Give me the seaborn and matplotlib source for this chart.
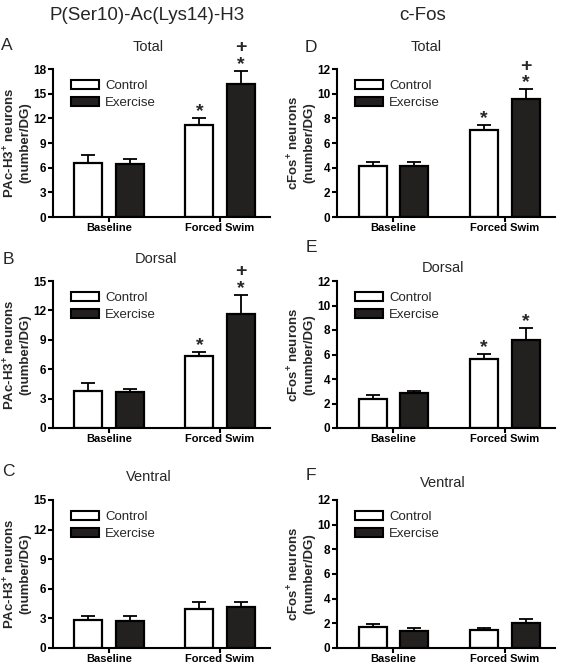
import matplotlib
matplotlib.use("Agg")
import matplotlib.pyplot as plt
from matplotlib.patches import Patch
import pandas as pd
import seaborn as sns

sns.set_theme(style="ticks")
plt.rcParams["font.family"] = ["Liberation Sans", "DejaVu Sans"]
plt.rcParams["mathtext.fontset"] = "custom"
plt.rcParams["mathtext.rm"] = "Liberation Sans:bold"
plt.rcParams["mathtext.bf"] = "Liberation Sans:bold"

groups = ["Baseline", "Forced Swim"]
conditions = ["Control", "Exercise"]
colors = {"Control": "white", "Exercise": "#231f20"}

# means / SEM, order = [Baseline, Forced Swim]
a_ctrl = [6.6, 11.2]
a_ex = [6.4, 16.2]
a_ctrl_sem = [0.95, 0.8]
a_ex_sem = [0.65, 1.6]

b_ctrl = [3.8, 7.3]
b_ex = [3.7, 11.65]
b_ctrl_sem = [0.75, 0.42]
b_ex_sem = [0.25, 1.95]

c_ctrl = [2.86, 3.94]
c_ex = [2.76, 4.2]
c_ctrl_sem = [0.41, 0.77]
c_ex_sem = [0.44, 0.51]

d_ctrl = [4.1, 7.05]
d_ex = [4.15, 9.55]
d_ctrl_sem = [0.4, 0.4]
d_ex_sem = [0.35, 0.8]

e_ctrl = [2.4, 5.6]
e_ex = [2.84, 7.16]
e_ctrl_sem = [0.3, 0.48]
e_ex_sem = [0.16, 1.0]

f_ctrl = [1.68, 1.49]
f_ex = [1.41, 2.01]
f_ctrl_sem = [0.28, 0.14]
f_ex_sem = [0.22, 0.38]

# significance marks: "*" vs baseline, "+" vs control
sig_both = [["", "*"], ["", "+\n*"]]
sig_star = [["", "*"], ["", "*"]]
sig_none = [["", ""], ["", ""]]

ylab_h3 = "PAc-H3$^{+}$ neurons\n(number/DG)"
ylab_fos = "cFos$^{+}$ neurons\n(number/DG)"

panels = [
    # letter, title, ctrl, ex, ctrl_sem, ex_sem, marks, ymax, ystep, ylabel
    ("A", "Total", a_ctrl, a_ex, a_ctrl_sem, a_ex_sem, sig_both, 18, 3, ylab_h3),
    ("B", "Dorsal", b_ctrl, b_ex, b_ctrl_sem, b_ex_sem, sig_both, 15, 3, ylab_h3),
    ("C", "Ventral", c_ctrl, c_ex, c_ctrl_sem, c_ex_sem, sig_none, 15, 3, ylab_h3),
    ("D", "Total", d_ctrl, d_ex, d_ctrl_sem, d_ex_sem, sig_both, 12, 2, ylab_fos),
    ("E", "Dorsal", e_ctrl, e_ex, e_ctrl_sem, e_ex_sem, sig_star, 12, 2, ylab_fos),
    ("F", "Ventral", f_ctrl, f_ex, f_ctrl_sem, f_ex_sem, sig_none, 12, 2, ylab_fos),
]

# layout in pixels: axes box (left, top, right, bottom), letter xy, title xy
W, H = 561, 665
boxes = [(53, 69, 270, 217), (53, 281, 270, 428), (53, 500, 270, 648),
         (337, 69, 555, 217), (337, 281, 555, 428), (337, 500, 555, 648)]
letter_xy = [(7, 45), (8, 259), (8, 472), (311, 47), (311, 248), (311, 475)]
title_xy = [(148, 47), (156, 259), (149, 477), (426, 47), (443, 268), (443, 483)]

fig = plt.figure(figsize=(W / 100, H / 100), dpi=100)

fig.text(147 / W, 1 - 16 / H, "P(Ser10)-Ac(Lys14)-H3", ha="center", va="center",
         fontsize=13.5)
fig.text(423 / W, 1 - 16 / H, "c-Fos", ha="center", va="center", fontsize=13.5)

for i, (letter, title, ctrl, ex, ctrl_sem, ex_sem, marks, ymax, ystep, ylabel) in enumerate(panels):
    l, t, r, b = boxes[i]
    ax = fig.add_axes([l / W, 1 - b / H, (r - l) / W, (b - t) / H])

    df = pd.DataFrame({
        "group": groups * 2,
        "condition": ["Control"] * 2 + ["Exercise"] * 2,
        "mean": ctrl + ex,
    })
    sns.barplot(
        data=df, x="group", y="mean", hue="condition",
        order=groups, hue_order=conditions, palette=colors,
        edgecolor="black", linewidth=1.6, width=0.744, gap=0.323,
        errorbar=None, legend=False, ax=ax
    )

    sems = [ctrl_sem, ex_sem]
    bar_groups = list(ax.containers)
    for k, cont in enumerate(bar_groups):
        xs = [bar.get_x() + bar.get_width() / 2 for bar in cont]
        ys = [bar.get_height() for bar in cont]
        ax.errorbar(xs, ys, yerr=[[0] * len(ys), sems[k]], fmt="none",
                    ecolor="black", elinewidth=1.3, capsize=5.2, capthick=1.3,
                    zorder=1)
        for x, y, s, m in zip(xs, ys, sems[k], marks[k]):
            if m:
                ax.annotate(m, (x, y + s), xytext=(0, -1.5), textcoords="offset points",
                            ha="center", va="bottom", fontsize=14, fontweight="bold",
                            linespacing=0.95, multialignment="center",
                            annotation_clip=False)

    ax.set_xlim(-0.505, 1.45)
    ax.set_ylim(0, ymax)
    ax.set_yticks(range(0, ymax + 1, ystep))
    sns.despine(ax=ax)
    for side in ["left", "bottom"]:
        ax.spines[side].set_linewidth(1.5)
        ax.spines[side].set_color("black")
    ax.tick_params(axis="both", width=1.5, length=3.5, color="black", pad=1.5)
    ax.tick_params(axis="x", pad=1)
    for lab in ax.get_yticklabels():
        lab.set_fontsize(8.5)
    for lab in ax.get_xticklabels():
        lab.set_fontsize(8)
    for lab in ax.get_xticklabels() + ax.get_yticklabels():
        lab.set_fontweight("bold")
        lab.set_color("black")
    ax.set_xlabel("")
    ax.set_ylabel(ylabel, fontsize=9.5, fontweight="bold", labelpad=1,
                  linespacing=1.2)

    handles = [Patch(facecolor=colors[c], edgecolor="black", linewidth=1.5, label=c)
               for c in conditions]
    ax.legend(handles=handles, loc="upper left", bbox_to_anchor=(0.04, 0.99),
              frameon=False, fontsize=9.5, handlelength=2.1, handleheight=0.7,
              handletextpad=0.5, labelspacing=0.35, borderpad=0.2)

    fig.text(letter_xy[i][0] / W, 1 - letter_xy[i][1] / H, letter, ha="center",
             va="center", fontsize=12.5)
    fig.text(title_xy[i][0] / W, 1 - title_xy[i][1] / H, title, ha="center",
             va="center", fontsize=10.5)

fig.savefig("out.png", dpi=100)
